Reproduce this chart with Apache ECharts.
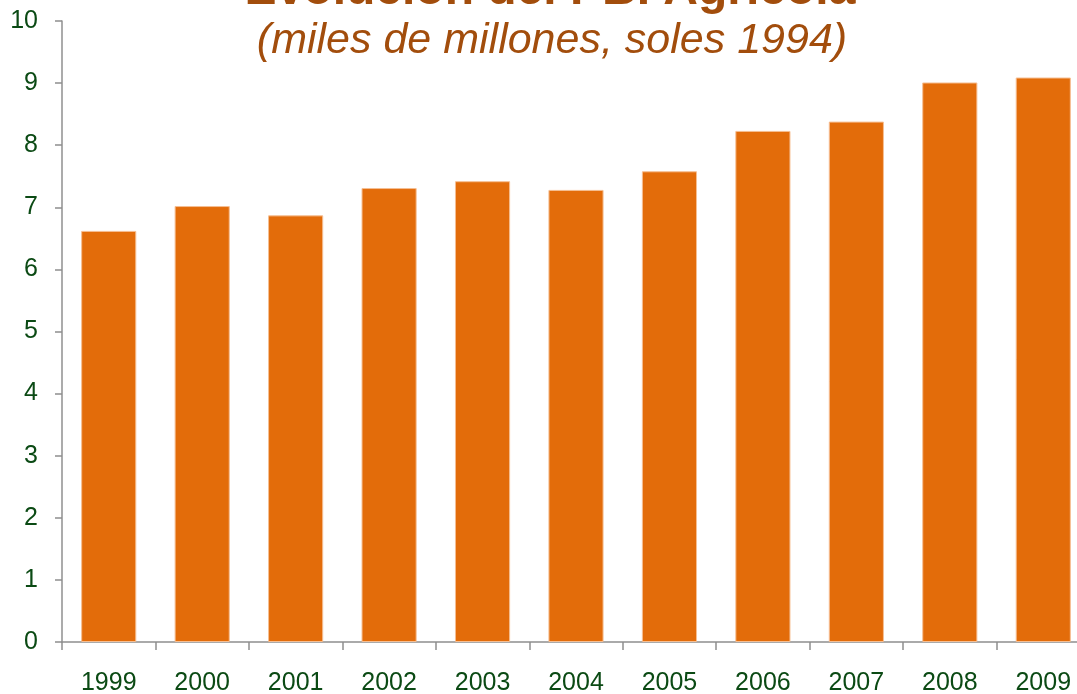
<!DOCTYPE html>
<html>
<head>
<meta charset="utf-8">
<title>Evolución del PBI Agrícola</title>
<script src="https://cdn.jsdelivr.net/npm/echarts@6/dist/echarts.min.js"></script>
<style>
  html, body { margin: 0; padding: 0; background: #fff; }
  #chart { width: 1077px; height: 694px; }
</style>
</head>
<body>
<div id="chart"></div>
<script>
// PBI agricola, miles de millones de soles de 1994
var years = ['1999', '2000', '2001', '2002', '2003', '2004', '2005', '2006', '2007', '2008', '2009'];
var pbiAgro = [6.62, 7.02, 6.87, 7.31, 7.42, 7.28, 7.58, 8.23, 8.38, 9.01, 9.09];

var titleText = 'Evolución del PBI Agrícola';
var subText = '(miles de millones, soles 1994)';

var chart = echarts.init(document.getElementById('chart'));

chart.setOption({
  animation: false,
  textStyle: { fontFamily: 'Liberation Sans, Arial, sans-serif' },
  // plot area runs past the right edge, as in the cropped original
  grid: { left: 62, width: 1028, top: 21, height: 621, containLabel: false, outerBoundsMode: 'none' },
  graphic: [
    {
      type: 'text', x: 550, y: -9,
      style: {
        text: titleText, fill: '#a24d0c', font: 'bold 48px "Liberation Sans", Arial',
        textAlign: 'center', textVerticalAlign: 'middle'
      }
    },
    {
      type: 'text', x: 552, y: 41.5,
      style: {
        text: subText, fill: '#a24d0c', font: 'italic 43px "Liberation Sans", Arial',
        textAlign: 'center', textVerticalAlign: 'middle'
      }
    }
  ],
  xAxis: {
    type: 'category',
    data: years,
    axisLine: { lineStyle: { color: '#8f8f8f', width: 1.5 } },
    axisTick: { show: true, length: 8, alignWithLabel: false, lineStyle: { color: '#8f8f8f', width: 1.5 } },
    axisLabel: { color: '#0b4a14', fontSize: 25, margin: 29 }
  },
  yAxis: {
    type: 'value',
    min: 0, max: 10, interval: 1,
    splitLine: { show: false },
    axisLine: { show: true, lineStyle: { color: '#8f8f8f', width: 1.5 } },
    axisTick: { show: true, length: 7, lineStyle: { color: '#8f8f8f', width: 1.5 } },
    axisLabel: { color: '#0b4a14', fontSize: 25, margin: 24 }
  },
  series: [{
    type: 'bar',
    data: pbiAgro,
    barCategoryGap: '41%',
    itemStyle: { color: '#e36c0a', borderColor: '#f6bf93', borderWidth: 1 }
  }]
});
</script>
</body>
</html>
